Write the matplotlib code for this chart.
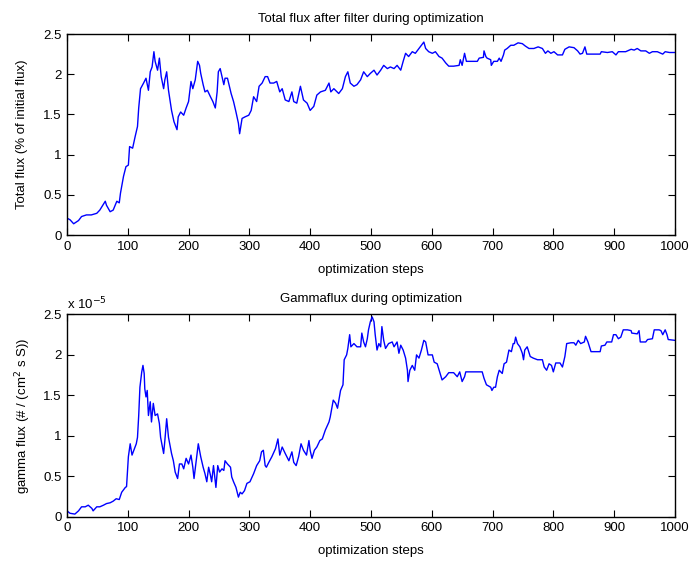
"""Two-panel optimisation trace: total flux after filter and gamma flux per step."""
import matplotlib
matplotlib.use("Agg")
import matplotlib.pyplot as plt

# values, (step, value) pairs
FLUX_STEPS = [0, 5, 11, 19, 24, 32, 40, 49, 54, 63, 65, 71, 76, 82, 86, 88, 93, 97, 101, 103,
              108, 112, 116, 118, 121, 126, 130, 134, 137, 140, 143, 145, 149, 152, 155, 159, 161, 164, 167, 172,
              176, 181, 183, 187, 192, 196, 200, 204, 207, 211, 215, 218, 220, 224, 227, 231, 236, 240, 244, 247,
              249, 252, 255, 258, 260, 264, 270, 274, 278, 282, 284, 288, 293, 299, 303, 307, 312, 316, 321, 326,
              330, 334, 340, 345, 350, 354, 359, 365, 370, 373, 378, 384, 389, 395, 400, 406, 411, 417, 425, 431,
              434, 439, 447, 453, 458, 462, 466, 472, 477, 483, 488, 494, 499, 505, 510, 516, 521, 527, 532, 538,
              543, 549, 553, 557, 562, 568, 573, 579, 583, 587, 590, 595, 601, 606, 612, 617, 623, 628, 636, 645,
              647, 650, 654, 657, 664, 675, 678, 685, 686, 689, 691, 697, 698, 702, 708, 711, 714, 718, 720, 724,
              730, 735, 742, 749, 754, 760, 768, 775, 782, 787, 791, 796, 801, 807, 815, 819, 826, 834, 840, 844,
              848, 852, 855, 867, 877, 879, 889, 897, 903, 907, 919, 928, 933, 938, 944, 952, 958, 963, 971, 980,
              984, 991, 1000]
FLUX_VALS = [0.21, 0.19, 0.14, 0.18, 0.23, 0.25, 0.25, 0.27, 0.31, 0.42, 0.37, 0.29, 0.31, 0.42, 0.40, 0.52, 0.73, 0.85, 0.87, 1.10,
             1.08, 1.22, 1.35, 1.58, 1.82, 1.89, 1.95, 1.80, 2.03, 2.09, 2.28, 2.16, 2.05, 2.20, 1.97, 1.82, 1.93, 2.03, 1.80, 1.55,
             1.41, 1.31, 1.47, 1.53, 1.49, 1.58, 1.66, 1.91, 1.82, 1.93, 2.16, 2.11, 2.01, 1.87, 1.78, 1.80, 1.72, 1.66, 1.58, 1.78,
             2.03, 2.07, 1.97, 1.87, 1.95, 1.95, 1.76, 1.66, 1.53, 1.39, 1.26, 1.45, 1.47, 1.49, 1.55, 1.72, 1.66, 1.85, 1.89, 1.97,
             1.97, 1.89, 1.89, 1.91, 1.78, 1.82, 1.68, 1.66, 1.78, 1.66, 1.64, 1.85, 1.68, 1.64, 1.55, 1.60, 1.74, 1.78, 1.80, 1.89,
             1.78, 1.82, 1.76, 1.82, 1.97, 2.03, 1.89, 1.85, 1.87, 1.93, 2.03, 1.97, 2.01, 2.05, 1.99, 2.05, 2.11, 2.07, 2.09, 2.07,
             2.11, 2.05, 2.16, 2.26, 2.22, 2.28, 2.26, 2.32, 2.36, 2.40, 2.32, 2.28, 2.26, 2.28, 2.22, 2.20, 2.14, 2.10, 2.10, 2.11,
             2.18, 2.11, 2.26, 2.16, 2.16, 2.16, 2.20, 2.21, 2.29, 2.22, 2.20, 2.18, 2.11, 2.16, 2.16, 2.20, 2.16, 2.24, 2.30, 2.32,
             2.36, 2.36, 2.39, 2.38, 2.35, 2.32, 2.32, 2.34, 2.32, 2.26, 2.29, 2.26, 2.28, 2.24, 2.24, 2.31, 2.34, 2.33, 2.29, 2.25,
             2.26, 2.34, 2.25, 2.25, 2.25, 2.28, 2.27, 2.28, 2.24, 2.28, 2.28, 2.31, 2.30, 2.32, 2.29, 2.29, 2.26, 2.28, 2.28, 2.25,
             2.28, 2.27, 2.27]

# gamma flux in units of 1e-5 #/(cm^2 s S)
GAMMA_STEPS = [0, 5, 13, 19, 24, 30, 35, 41, 43, 49, 54, 60, 65, 71, 76, 81, 86, 90, 96, 98,
               101, 104, 107, 110, 114, 116, 118, 120, 123, 125, 127, 128, 130, 132, 134, 137, 139, 142, 145, 149,
               152, 154, 159, 161, 164, 167, 170, 172, 175, 178, 182, 185, 189, 192, 196, 200, 204, 207, 209, 213,
               216, 220, 224, 227, 230, 233, 236, 238, 241, 245, 248, 251, 255, 258, 260, 264, 269, 271, 274, 278,
               282, 285, 288, 292, 296, 301, 307, 312, 317, 320, 323, 326, 328, 332, 337, 343, 347, 350, 354, 359,
               365, 370, 373, 377, 381, 385, 389, 394, 398, 400, 403, 407, 411, 416, 420, 425, 431, 433, 438, 442,
               445, 450, 454, 456, 460, 462, 465, 467, 472, 477, 483, 485, 488, 491, 494, 496, 499, 502, 505, 507,
               510, 513, 516, 518, 521, 524, 529, 535, 538, 543, 546, 549, 553, 557, 560, 561, 564, 568, 572, 575,
               579, 583, 587, 590, 594, 601, 604, 609, 613, 617, 623, 628, 636, 642, 646, 650, 654, 656, 672, 683,
               686, 690, 697, 699, 702, 705, 708, 711, 716, 719, 723, 727, 731, 734, 736, 738, 741, 745, 749, 751,
               753, 757, 762, 767, 774, 782, 785, 789, 793, 797, 800, 804, 811, 815, 819, 822, 829, 834, 837, 841,
               845, 851, 853, 857, 862, 877, 879, 885, 888, 896, 899, 903, 907, 911, 915, 922, 928, 929, 938, 941,
               943, 952, 955, 963, 966, 974, 977, 980, 984, 987, 989, 1000]
GAMMA_VALS = [0.07, 0.04, 0.03, 0.07, 0.12, 0.12, 0.14, 0.10, 0.07, 0.12, 0.12, 0.14, 0.16, 0.17, 0.19, 0.22, 0.21, 0.30, 0.36, 0.37,
              0.74, 0.90, 0.76, 0.82, 0.90, 0.98, 1.25, 1.60, 1.79, 1.87, 1.77, 1.58, 1.48, 1.56, 1.25, 1.42, 1.17, 1.40, 1.25, 1.27,
              1.15, 0.98, 0.78, 0.94, 1.21, 0.98, 0.86, 0.78, 0.69, 0.55, 0.47, 0.65, 0.65, 0.59, 0.72, 0.65, 0.76, 0.61, 0.47, 0.72,
              0.90, 0.74, 0.61, 0.53, 0.43, 0.61, 0.51, 0.43, 0.63, 0.36, 0.63, 0.55, 0.59, 0.57, 0.69, 0.65, 0.61, 0.49, 0.43, 0.36,
              0.24, 0.30, 0.28, 0.32, 0.41, 0.43, 0.53, 0.63, 0.69, 0.80, 0.82, 0.63, 0.61, 0.67, 0.74, 0.84, 0.96, 0.76, 0.86, 0.78,
              0.69, 0.80, 0.67, 0.63, 0.74, 0.90, 0.82, 0.76, 0.94, 0.82, 0.72, 0.82, 0.86, 0.94, 0.96, 1.07, 1.17, 1.23, 1.44, 1.40,
              1.34, 1.56, 1.63, 1.94, 2.00, 2.08, 2.25, 2.10, 2.14, 2.10, 2.10, 2.27, 2.16, 2.10, 2.20, 2.31, 2.41, 2.47, 2.41, 2.25,
              2.06, 2.14, 2.10, 2.35, 2.18, 2.08, 2.14, 2.16, 2.10, 2.16, 2.02, 2.12, 2.06, 1.96, 1.81, 1.67, 1.81, 1.87, 1.81, 2.00,
              1.96, 2.06, 2.18, 2.16, 2.00, 2.00, 1.91, 1.89, 1.79, 1.69, 1.73, 1.78, 1.78, 1.73, 1.79, 1.67, 1.73, 1.79, 1.79, 1.79,
              1.71, 1.63, 1.60, 1.56, 1.60, 1.60, 1.73, 1.81, 1.77, 1.89, 1.91, 2.06, 2.04, 2.14, 2.14, 2.22, 2.14, 2.10, 2.02, 1.94,
              2.06, 2.10, 1.98, 1.96, 1.94, 1.94, 1.85, 1.81, 1.89, 1.87, 1.79, 1.90, 1.90, 1.85, 1.98, 2.14, 2.15, 2.15, 2.12, 2.18,
              2.14, 2.16, 2.23, 2.16, 2.04, 2.04, 2.11, 2.12, 2.16, 2.16, 2.25, 2.25, 2.20, 2.22, 2.31, 2.31, 2.30, 2.27, 2.26, 2.30,
              2.16, 2.16, 2.19, 2.20, 2.31, 2.31, 2.30, 2.25, 2.31, 2.25, 2.19, 2.18]

X_TICKS = list(range(0, 1001, 100))
Y_TICKS = [0, 0.5, 1, 1.5, 2, 2.5]

plt.rcParams["font.family"] = ["Liberation Sans", "DejaVu Sans"]
plt.rcParams["font.size"] = 9.5

fig = plt.figure(figsize=(6.94, 5.64), dpi=100)
ax1 = fig.add_axes([0.0965, 0.5833, 0.876, 0.3564])
ax2 = fig.add_axes([0.0965, 0.0842, 0.876, 0.3582])

panels = [
    (ax1, FLUX_STEPS, FLUX_VALS, "Total flux after filter during optimization", "Total flux (% of initial flux)", 11),
    (ax2, GAMMA_STEPS, GAMMA_VALS, "Gammaflux during optimization", "gamma flux (# / (cm$^2$ s S))", 7),
]
for ax, xs, ys, title, ylab, ypad in panels:
    ax.plot(xs, ys, color="#0000ff", lw=1.0)
    ax.set_xlim(0, 1000); ax.set_ylim(0, 2.5)
    ax.set_xticks(X_TICKS); ax.set_yticks(Y_TICKS)
    ax.set_yticklabels(["0", "0.5", "1", "1.5", "2", "2.5"])
    ax.tick_params(direction="in", length=5, width=0.8, top=True, right=True, pad=4)
    for sp in ax.spines.values():
        sp.set_linewidth(1.0)
    ax.set_title(title, fontsize=9.5, pad=9)
    ax.set_xlabel("optimization steps", labelpad=8)
    ax.set_ylabel(ylab, labelpad=ypad)

ax2.text(0.0, 1.01, "x 10$^{-5}$", transform=ax2.transAxes, ha="left", va="bottom", fontsize=9.5)

fig.savefig("out.png", dpi=100)
